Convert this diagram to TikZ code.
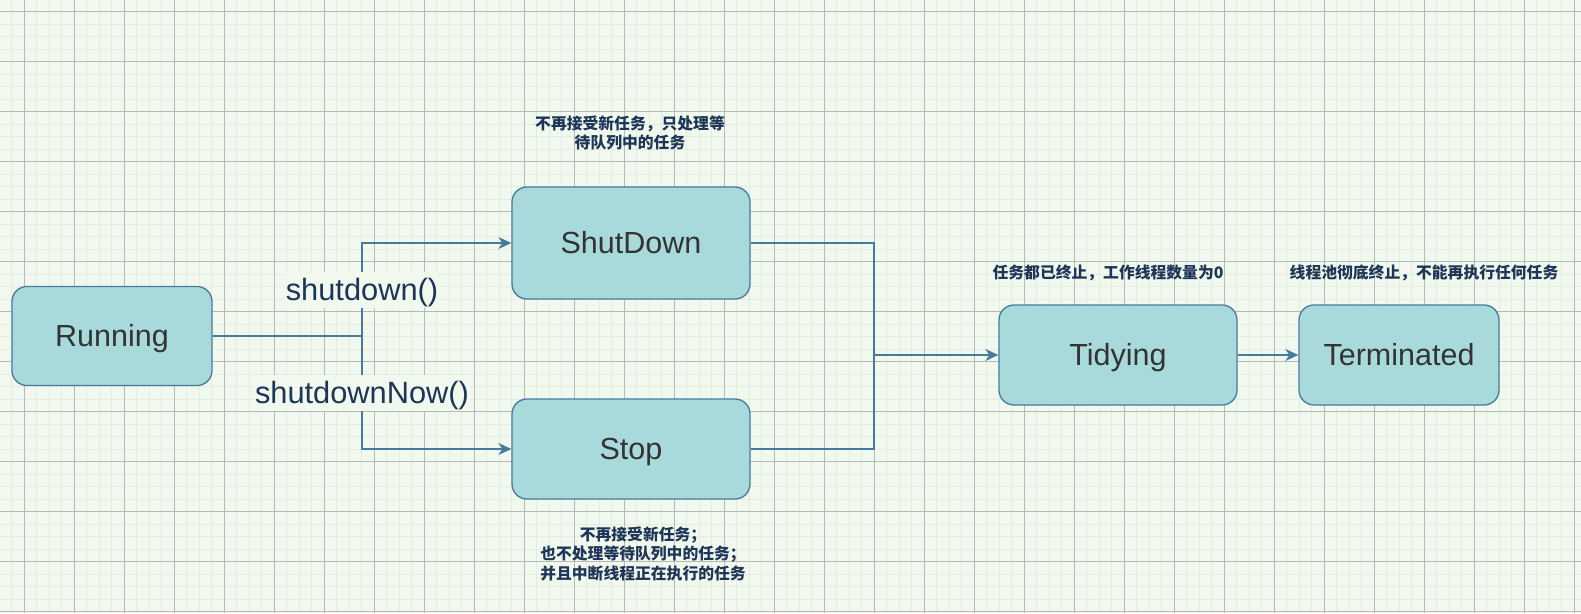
\documentclass[tikz,border=0pt]{standalone}
\usepackage{fontspec}
\setmainfont{Liberation Sans}
\newfontfamily\cjk{Noto Sans CJK SC}
\usepackage{tikz}
\usetikzlibrary{arrows.meta,positioning,backgrounds}
\pgfdeclarelayer{gridlayer}
\pgfdeclarelayer{edgelayer}
\pgfdeclarelayer{nodelayer}
\pgfsetlayers{gridlayer,edgelayer,nodelayer,main}
\definecolor{paper}{HTML}{F1F8EE}
\definecolor{minorgrid}{HTML}{E4EBE1}
\definecolor{majorgrid}{HTML}{BAB7B7}
\definecolor{statefill}{HTML}{A8DADC}
\definecolor{stateline}{HTML}{457B9D}
\definecolor{navy}{HTML}{1D3557}
\definecolor{darktext}{HTML}{333333}
\tikzstyle{state}=[rectangle,rounded corners=15pt,fill=statefill,draw=stateline,line width=1.3pt,inner sep=0pt,text height=21pt,text depth=0pt,text=darktext,font=\fontsize{30.5}{36}\selectfont]
\tikzstyle{call}=[fill=paper,inner xsep=1pt,inner ysep=0pt,minimum height=36pt,text height=21pt,text depth=0pt,text=navy,font=\fontsize{30.8}{36}\selectfont]
\tikzstyle{note}=[inner sep=0pt,align=center,text=navy,font=\cjk\bfseries\fontsize{15.8}{19.5}\selectfont]
\tikzstyle{wire}=[-,draw=stateline,line width=1.3pt]
\tikzstyle{flow}=[-{Stealth[length=13pt,width=12pt,inset=4pt]},draw=stateline,line width=1.3pt]
\tikzstyle{none}=[inner sep=0pt]

\begin{document}
\begin{tikzpicture}[x=1pt,y=-1pt]
	\useasboundingbox (0,0) rectangle (1581,613);
	\begin{pgfonlayer}{gridlayer}
		\fill [paper] (0,0) rectangle (1581,613);
		\foreach \x in {-0.7,11.8,...,1581}
			\draw [minorgrid,line width=1pt] (\x,0) -- (\x,613);
		\foreach \y in {-0.8,11.7,...,613}
			\draw [minorgrid,line width=1pt] (0,\y) -- (1581,\y);
		\foreach \x in {24.3,74.3,...,1581}
			\draw [majorgrid,line width=0.9pt] (\x,0) -- (\x,613);
		\foreach \y in {11.7,61.7,...,613}
			\draw [majorgrid,line width=0.9pt] (0,\y) -- (1581,\y);
	\end{pgfonlayer}
	\begin{pgfonlayer}{nodelayer}
		\node [style=state,minimum width=200pt,minimum height=99pt] (Running) at (112,336) {Running};
		\node [style=state,minimum width=238pt,minimum height=112pt] (ShutDown) at (631,243) {ShutDown};
		\node [style=state,minimum width=238pt,minimum height=100pt] (Stop) at (631,449) {Stop};
		\node [style=state,minimum width=238pt,minimum height=100pt] (Tidying) at (1118,355) {Tidying};
		\node [style=state,minimum width=200pt,minimum height=100pt] (Terminated) at (1399,355) {Terminated};
		\node [style=call] (shutdownCall) at (362,290) {shutdown()};
		\node [style=call] (shutdownNowCall) at (362,393) {shutdownNow()};
		\node [style=note] (shutdownNote) at (630,133) {不再接受新任务，只处理等\\待队列中的任务};
		\node [style=note] (stopNote) at (643,554) {不再接受新任务；\\也不处理等待队列中的任务；\\并且中断线程正在执行的任务};
		\node [style=note] (tidyingNote) at (1108,273) {任务都已终止，工作线程数量为0};
		\node [style=note] (terminatedNote) at (1424,273) {线程池彻底终止，不能再执行任何任务};
		\coordinate (split) at (362,336);
		\coordinate (merge) at (874,355);
	\end{pgfonlayer}
	\begin{pgfonlayer}{edgelayer}
		\draw [style=wire] (Running.east) to (split);
		\draw [style=flow] (split) |- (ShutDown.west);
		\draw [style=flow] (split) |- (Stop.west);
		\draw [style=wire] (ShutDown.east) -| (merge);
		\draw [style=wire] (Stop.east) -| (merge);
		\draw [style=flow] (merge) to (Tidying.west);
		\draw [style=flow] (Tidying) to (Terminated);
	\end{pgfonlayer}
\end{tikzpicture}
\end{document}
